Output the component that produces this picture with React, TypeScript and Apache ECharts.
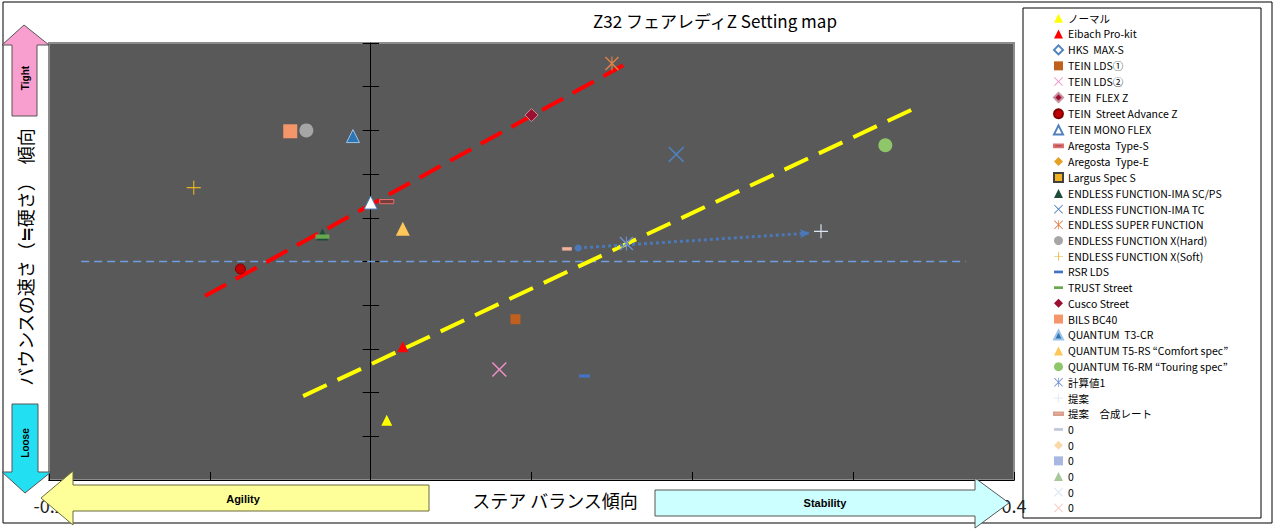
import React, { useEffect, useRef } from 'react';
import * as echarts from 'echarts';

// scatter points: [steer balance, bounce speed]
const ptNormal = [[0.010, -3.63]];
const ptEibach = [[0.020, -1.95]];
const ptHks: number[][] = [];
const ptLds1 = [[0.090, -1.32]];
const ptLds2 = [[0.080, -2.47]];
const ptFlexZ = [[0.100, 3.35]];
const ptStreetAdv = [[-0.081, -0.17]];
const ptMonoFlex = [[0.000, 1.35]];
const ptAregostaS = [[0.010, 1.37]];
const ptAregostaE: number[][] = [];
const ptLargus: number[][] = [];
const ptImaScps = [[-0.030, 0.62]];
const ptImaTc = [[0.190, 2.45]];
const ptSuper = [[0.150, 4.53]];
const ptXHard = [[-0.040, 3.0]];
const ptXSoft = [[-0.110, 1.69]];
const ptRsr = [[0.133, -2.62]];
const ptTrust = [[-0.030, 0.57]];
const ptCusco = [[0.100, 3.35]];
const ptBils = [[-0.050, 2.98]];
const ptT3 = [[-0.011, 2.87]];
const ptT5 = [[0.020, 0.75]];
const ptT6 = [[0.320, 2.66]];
const ptCalc = [[0.159, 0.41]];
const ptProposal = [[0.280, 0.69]];
const ptProposalRate = [[0.122, 0.29]];

// trend lines and guides
const redTrend = [[-0.103, -0.79], [0.157, 4.49]];
const yellowTrend = [[-0.042, -3.08], [0.342, 3.57]];
const zeroGuide = [[-0.18, 0], [0.37, 0]];
const proposalArrow = [[0.129, 0.31], [0.273, 0.65]];

const xTickLabels = ['-0.2', '0.4'];

const X_PATH = 'path://M0,0.7L0.7,0L5,4.3L9.3,0L10,0.7L5.7,5L10,9.3L9.3,10L5,5.7L0.7,10L0,9.3L4.3,5Z';
const STAR_PATH = 'path://M0,0.7L0.7,0L5,4.3L9.3,0L10,0.7L5.7,5L10,9.3L9.3,10L5,5.7L0.7,10L0,9.3L4.3,5ZM4.6,0H5.4V10H4.6Z';
const PLUS_PATH = 'path://M4.6,0H5.4V4.6H10V5.4H5.4V10H4.6V5.4H0V4.6H4.6Z';
const DASH_PATH = 'path://M0,0H10V3H0Z';

type Mark = {
  name: string;
  data: number[][];
  symbol: string;
  size: number;
  color: string;
  border?: string;
  keep?: boolean;
};

const marks: Mark[] = [
  { name: 'ノーマル', data: ptNormal, symbol: 'triangle', size: 11, color: '#ffff00' },
  { name: 'Eibach Pro-kit', data: ptEibach, symbol: 'triangle', size: 11, color: '#ff0000' },
  { name: 'HKS  MAX-S', data: ptHks, symbol: 'diamond', size: 10, color: '#ffffff', border: '#4f81bd' },
  { name: 'TEIN LDS①', data: ptLds1, symbol: 'rect', size: 10, color: '#c0601e' },
  { name: 'TEIN LDS②', data: ptLds2, symbol: X_PATH, size: 15, color: '#f28fc8' },
  { name: 'TEIN  FLEX Z', data: ptFlexZ, symbol: 'diamond', size: 13, color: '#9b1030', border: '#c890a0' },
  { name: 'TEIN  Street Advance Z', data: ptStreetAdv, symbol: 'circle', size: 10, color: '#c00000', border: '#800000' },
  { name: 'TEIN MONO FLEX', data: ptMonoFlex, symbol: 'triangle', size: 13, color: '#ffffff', border: '#4f81bd' },
  { name: 'Aregosta  Type-S', data: ptAregostaS, symbol: DASH_PATH, size: 14, color: '#7a3b3b', border: '#e07070', keep: true },
  { name: 'Aregosta  Type-E', data: ptAregostaE, symbol: 'diamond', size: 10, color: '#e6a023' },
  { name: 'Largus Spec S', data: ptLargus, symbol: 'rect', size: 10, color: '#f0b020', border: '#404040' },
  { name: 'ENDLESS FUNCTION-IMA SC/PS', data: ptImaScps, symbol: 'triangle', size: 12, color: '#1e4d3a' },
  { name: 'ENDLESS FUNCTION-IMA TC', data: ptImaTc, symbol: X_PATH, size: 16, color: '#4f81bd' },
  { name: 'ENDLESS SUPER FUNCTION', data: ptSuper, symbol: STAR_PATH, size: 14, color: '#e0804a' },
  { name: 'ENDLESS FUNCTION X(Hard)', data: ptXHard, symbol: 'circle', size: 14, color: '#a6a6a6' },
  { name: 'ENDLESS FUNCTION X(Soft)', data: ptXSoft, symbol: PLUS_PATH, size: 14, color: '#e6b422' },
  { name: 'RSR LDS', data: ptRsr, symbol: DASH_PATH, size: 11, color: '#4472c4', keep: true },
  { name: 'TRUST Street', data: ptTrust, symbol: DASH_PATH, size: 14, color: '#6aa84f', keep: true },
  { name: 'Cusco Street', data: ptCusco, symbol: 'diamond', size: 10, color: '#9b1030' },
  { name: 'BILS BC40', data: ptBils, symbol: 'rect', size: 14, color: '#f4956a' },
  { name: 'QUANTUM  T3-CR', data: ptT3, symbol: 'triangle', size: 13, color: '#2e75b6', border: '#9dc3e6' },
  { name: 'QUANTUM T5-RS “Comfort spec”', data: ptT5, symbol: 'triangle', size: 14, color: '#ffc658' },
  { name: 'QUANTUM T6-RM “Touring spec”', data: ptT6, symbol: 'circle', size: 14, color: '#8fc66a' },
  { name: '計算値1', data: ptCalc, symbol: STAR_PATH, size: 14, color: '#7090d0' },
  { name: '提案', data: ptProposal, symbol: PLUS_PATH, size: 14, color: '#dce6f2' },
  { name: '提案　合成レート', data: ptProposalRate, symbol: DASH_PATH, size: 9, color: '#f4b6a0', border: '#d9a090', keep: true },
  { name: '0_1', data: [], symbol: DASH_PATH, size: 10, color: '#c0c8d8', keep: true },
  { name: '0_2', data: [], symbol: 'diamond', size: 10, color: '#f9d9a8' },
  { name: '0_3', data: [], symbol: 'rect', size: 10, color: '#a8b8e0' },
  { name: '0_4', data: [], symbol: 'triangle', size: 10, color: '#a8c89c' },
  { name: '0_5', data: [], symbol: X_PATH, size: 10, color: '#d8e4f0' },
  { name: '0_6', data: [], symbol: X_PATH, size: 10, color: '#f8c8c0' },
];

const FONT = '"Noto Sans CJK JP", "Noto Sans", sans-serif';
const BOLD_FONT = 'Arial, "Liberation Sans", sans-serif';

const App: React.FC = () => {
  const chartRef = useRef<HTMLDivElement>(null);

  useEffect(() => {
    if (!chartRef.current) return;
    document.body.style.margin = '0';
    const chart = echarts.init(chartRef.current, undefined, { renderer: 'svg' });

    const scatterSeries = marks.map((m) => ({
      name: m.name,
      type: 'scatter',
      data: m.data,
      symbol: m.symbol,
      symbolSize: m.size,
      symbolKeepAspect: !!m.keep,
      itemStyle: {
        color: m.color,
        borderColor: m.border || m.color,
        borderWidth: m.border ? 1 : 0,
        opacity: 1,
      },
      z: 5,
    }));

    const arrowStyle = (fill: string, stroke: string) => ({ fill, stroke, lineWidth: 1 });

    const yAxisBase = {
      type: 'value',
      min: -5,
      max: 5,
      interval: 1,
      axisTick: { show: true, length: 8, lineStyle: { color: '#000' } },
      axisLabel: { show: false },
      splitLine: { show: false },
    };

    const option = {
      animation: false,
      textStyle: { fontFamily: FONT },
      grid: {
        show: true,
        left: 49,
        top: 43,
        right: 263,
        bottom: 49,
        backgroundColor: '#595959',
        borderColor: '#8c8c8c',
        borderWidth: 2,
      },
      legend: {
        orient: 'vertical',
        left: 1053,
        top: 13,
        padding: 0,
        itemWidth: 9,
        itemHeight: 9,
        itemGap: 5.2,
        data: marks.map((m) => m.name),
        formatter: (name: string) => (name.startsWith('0_') ? '0' : name),
        textStyle: { fontSize: 10.5, lineHeight: 9, color: '#000', fontFamily: FONT },
      },
      xAxis: {
        type: 'value',
        min: -0.2,
        max: 0.4,
        interval: 0.1,
        axisLine: { show: true, onZero: false, lineStyle: { color: '#000', width: 1 } },
        axisTick: { show: true, inside: true, length: 8, lineStyle: { color: '#000' } },
        axisLabel: {
          margin: 16,
          fontSize: 18,
          color: '#222',
          fontFamily: FONT,
          formatter: (v: number) => {
            if (Math.abs(v + 0.2) < 1e-6) return xTickLabels[0];
            if (Math.abs(v - 0.4) < 1e-6) return xTickLabels[1];
            return '';
          },
        },
        splitLine: { show: false },
      },
      yAxis: [
        {
          ...yAxisBase,
          position: 'left',
          axisLine: { show: true, onZero: true, lineStyle: { color: '#000', width: 1 } },
        },
        {
          // second copy of the axis, pulled back to x = 0, gives the crossing ticks
          ...yAxisBase,
          position: 'right',
          offset: -643,
          axisLine: { show: false, onZero: false },
        },
      ],
      series: [
        {
          name: 'zeroGuide',
          type: 'line',
          data: zeroGuide,
          symbol: 'none',
          silent: true,
          itemStyle: { color: '#6f9fe0' },
          lineStyle: { color: '#6f9fe0', width: 1.3, type: [8, 5] },
          z: 2,
        },
        {
          name: 'redTrend',
          type: 'line',
          data: redTrend,
          symbol: 'none',
          silent: true,
          lineStyle: { color: '#ff0000', width: 4, type: [24, 11] },
          z: 3,
        },
        {
          name: 'yellowTrend',
          type: 'line',
          data: yellowTrend,
          symbol: 'none',
          silent: true,
          lineStyle: { color: '#ffff00', width: 4, type: [26, 12] },
          z: 3,
        },
        {
          name: 'proposalArrow',
          type: 'line',
          data: [],
          silent: true,
          markLine: {
            silent: true,
            symbol: ['circle', 'arrow'],
            symbolSize: [7, 10],
            label: { show: false },
            lineStyle: { color: '#4a78b8', width: 3, type: 'dotted' },
            data: [[{ coord: proposalArrow[0] }, { coord: proposalArrow[1] }]],
          },
          z: 4,
        },
        ...scatterSeries,
      ],
      graphic: [
        {
          type: 'rect',
          z: 0,
          silent: true,
          shape: { x: 3, y: 2, width: 1269, height: 521 },
          style: { fill: 'none', stroke: '#000', lineWidth: 1 },
        },
        {
          type: 'rect',
          z: 0,
          silent: true,
          shape: { x: 1023, y: 8, width: 238, height: 510 },
          style: { fill: 'none', stroke: '#000', lineWidth: 1 },
        },
        {
          type: 'text',
          z: 10,
          x: 715,
          y: 20,
          style: {
            text: 'Z32 フェアレディZ Setting map',
            fontSize: 17,
            fontFamily: FONT,
            fill: '#000',
            align: 'center',
            verticalAlign: 'middle',
          },
        },
        {
          type: 'text',
          z: 10,
          x: 25,
          y: 257,
          rotation: Math.PI / 2,
          style: {
            text: 'バウンスの速さ（≒硬さ）　傾向',
            fontSize: 18,
            fontFamily: FONT,
            fill: '#000',
            align: 'center',
            verticalAlign: 'middle',
          },
        },
        {
          type: 'text',
          z: 10,
          x: 555,
          y: 500,
          style: {
            text: 'ステア バランス傾向',
            fontSize: 18,
            fontFamily: FONT,
            fill: '#000',
            align: 'center',
            verticalAlign: 'middle',
          },
        },
        {
          type: 'polygon',
          z: 100,
          shape: { points: [[12, 116], [12, 45], [2, 45], [24, 25], [49, 45], [37, 45], [37, 116]] },
          style: arrowStyle('#f99fcf', '#555555'),
        },
        {
          type: 'text',
          z: 101,
          x: 25,
          y: 78,
          rotation: Math.PI / 2,
          style: { text: 'Tight', fontSize: 10, fontWeight: 'bold', fontFamily: BOLD_FONT, fill: '#000', align: 'center', verticalAlign: 'middle' },
        },
        {
          type: 'polygon',
          z: 100,
          shape: { points: [[12, 404], [38, 404], [38, 472], [51, 472], [25, 493], [2, 472], [12, 472]] },
          style: arrowStyle('#22e0f2', '#555555'),
        },
        {
          type: 'text',
          z: 101,
          x: 25,
          y: 443,
          rotation: Math.PI / 2,
          style: { text: 'Loose', fontSize: 10, fontWeight: 'bold', fontFamily: BOLD_FONT, fill: '#000', align: 'center', verticalAlign: 'middle' },
        },
        {
          type: 'polygon',
          z: 100,
          shape: { points: [[429, 485], [429, 511], [73, 511], [73, 525], [41, 498], [73, 471], [73, 485]] },
          style: arrowStyle('#ffff99', '#6b6b3a'),
        },
        {
          type: 'text',
          z: 101,
          x: 243,
          y: 499,
          style: { text: 'Agility', fontSize: 11, fontWeight: 'bold', fontFamily: BOLD_FONT, fill: '#000', align: 'center', verticalAlign: 'middle' },
        },
        {
          type: 'polygon',
          z: 100,
          shape: { points: [[655, 490], [975, 490], [975, 478], [1009, 503], [975, 528], [975, 516], [655, 516]] },
          style: arrowStyle('#ccffff', '#555555'),
        },
        {
          type: 'text',
          z: 101,
          x: 825,
          y: 503,
          style: { text: 'Stability', fontSize: 11, fontWeight: 'bold', fontFamily: BOLD_FONT, fill: '#000', align: 'center', verticalAlign: 'middle' },
        },
      ],
    };

    chart.setOption(option as any);

    const handleResize = () => chart.resize();
    window.addEventListener('resize', handleResize);
    return () => {
      window.removeEventListener('resize', handleResize);
      chart.dispose();
    };
  }, []);

  return <div ref={chartRef} style={{ width: 1277, height: 529 }} />;
};

export default App;
